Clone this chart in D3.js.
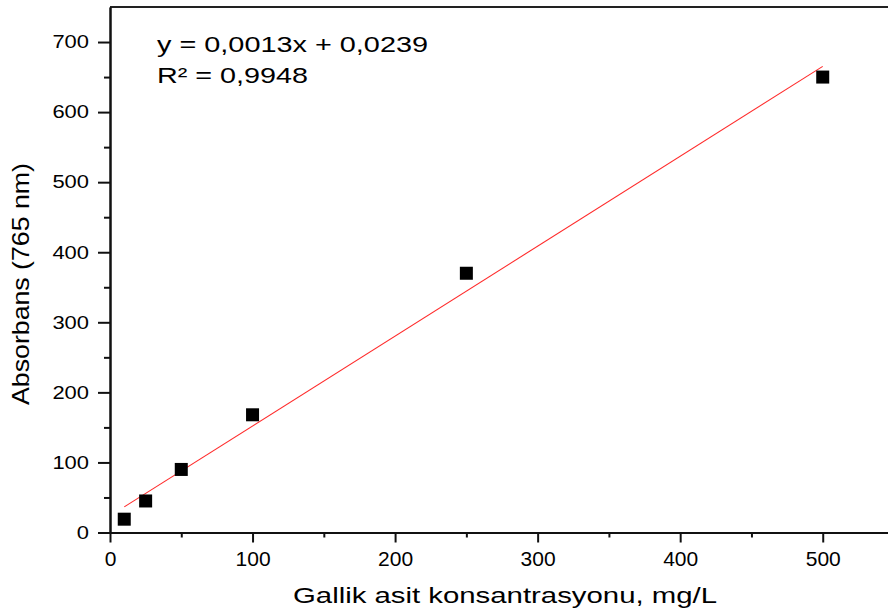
<!DOCTYPE html>
<html>
<head>
<meta charset="utf-8">
<script src="https://cdn.jsdelivr.net/npm/d3@7"></script>
<style>
  body { margin: 0; background: #fff; }
  svg { display: block; font-family: "Liberation Sans", Arial, sans-serif; }
</style>
</head>
<body>
<script>
// dane z wykresu
var stezenie = [10, 25, 50, 100, 250, 500]
var absorbans = [19, 45, 90, 168, 370, 650]
var xTicks = [0, 100, 200, 300, 400, 500]
var xMinor = [50, 150, 250, 350, 450, 550]
var yTicks = [0, 100, 200, 300, 400, 500, 600, 700]
var yMinor = [50, 150, 250, 350, 450, 550, 650]
var rownanie = ["y = 0,0013x + 0,0239", "R² = 0,9948"]
var tytulX = "Gallik asit konsantrasyonu, mg/L"
var tytulY = "Absorbans (765 nm)"

var obrazek = d3.select("body").append("svg")
  .attr("width", 888)
  .attr("height", 616)

var x = d3.scaleLinear().domain([0, 550]).range([110, 894])
var y = d3.scaleLinear().domain([0, 750]).range([532.5, 7])

// ramka gorna
obrazek.append("line")
  .attr("x1", x(0)).attr("x2", x(550))
  .attr("y1", y(750)).attr("y2", y(750))
  .style("stroke", "#222").style("stroke-width", 2)

// os Y
var osY = obrazek.append("g").attr("transform", "translate(" + x(0) + ",0)")
osY.call(d3.axisLeft(y).tickValues(yMinor).tickSize(6).tickSizeOuter(0).tickFormat(""))
var osYgl = obrazek.append("g").attr("transform", "translate(" + x(0) + ",0)")
osYgl.call(d3.axisLeft(y).tickValues(yTicks).tickSize(12).tickSizeOuter(0))
var sy = 1.22
osYgl.selectAll("text")
  .attr("x", -21 / sy)
  .attr("transform", "scale(" + sy + ",1)")
  .style("font-size", "18px")
  .style("font-family", "Liberation Sans, Arial, sans-serif")
  .style("fill", "#000")

// os X
var osX = obrazek.append("g").attr("transform", "translate(0," + y(0) + ")")
osX.call(d3.axisBottom(x).tickValues(xMinor).tickSize(5).tickSizeOuter(0).tickFormat(""))
var osXgl = obrazek.append("g").attr("transform", "translate(0," + y(0) + ")")
osXgl.call(d3.axisBottom(x).tickValues(xTicks).tickSize(10).tickPadding(9).tickSizeOuter(0))
osXgl.selectAll("text")
  .style("font-size", "21px")
  .style("font-family", "Liberation Sans, Arial, sans-serif")
  .style("fill", "#000")

obrazek.selectAll(".domain, .tick line")
  .style("stroke", "#111")
  .style("stroke-width", 2)

// prosta regresji (najmniejsze kwadraty)
var sx = d3.mean(stezenie), syy = d3.mean(absorbans)
var licznik = 0, mianownik = 0
stezenie.forEach(function(d, i) {
  licznik += (d - sx) * (absorbans[i] - syy)
  mianownik += (d - sx) * (d - sx)
})
var nachylenie = licznik / mianownik
var wyraz = syy - nachylenie * sx
var xMin = d3.min(stezenie), xMax = d3.max(stezenie)
obrazek.append("line")
  .attr("x1", x(xMin)).attr("y1", y(nachylenie * xMin + wyraz))
  .attr("x2", x(xMax)).attr("y2", y(nachylenie * xMax + wyraz))
  .style("stroke", "#ff2a2a")
  .style("stroke-width", 1.1)

// punkty
var bok = 13
obrazek.append("g").selectAll("rect")
  .data(stezenie)
  .enter()
  .append("rect")
  .attr("x", function(d) { return x(d) - bok / 2 })
  .attr("y", function(d, i) { return y(absorbans[i]) - bok / 2 })
  .attr("width", bok)
  .attr("height", bok)
  .style("fill", "#000")

// rownanie
obrazek.append("g").selectAll("text")
  .data(rownanie)
  .enter()
  .append("text")
  .attr("x", 157)
  .attr("y", function(d, i) { return i === 0 ? 52 : 83 })
  .attr("textLength", function(d, i) { return i === 0 ? 271 : 151 })
  .attr("lengthAdjust", "spacingAndGlyphs")
  .style("font-size", "22.5px")
  .style("fill", "#000")
  .text(function(d) { return d })

// tytuly osi
obrazek.append("text")
  .attr("x", 505)
  .attr("y", 603)
  .attr("text-anchor", "middle")
  .attr("textLength", 424)
  .attr("lengthAdjust", "spacingAndGlyphs")
  .style("font-size", "22px")
  .style("fill", "#000")
  .text(tytulX)

obrazek.append("text")
  .attr("transform", "translate(29,284) rotate(-90)")
  .attr("text-anchor", "middle")
  .attr("textLength", 242)
  .attr("lengthAdjust", "spacingAndGlyphs")
  .style("font-size", "24px")
  .style("fill", "#000")
  .text(tytulY)
</script>
</body>
</html>
